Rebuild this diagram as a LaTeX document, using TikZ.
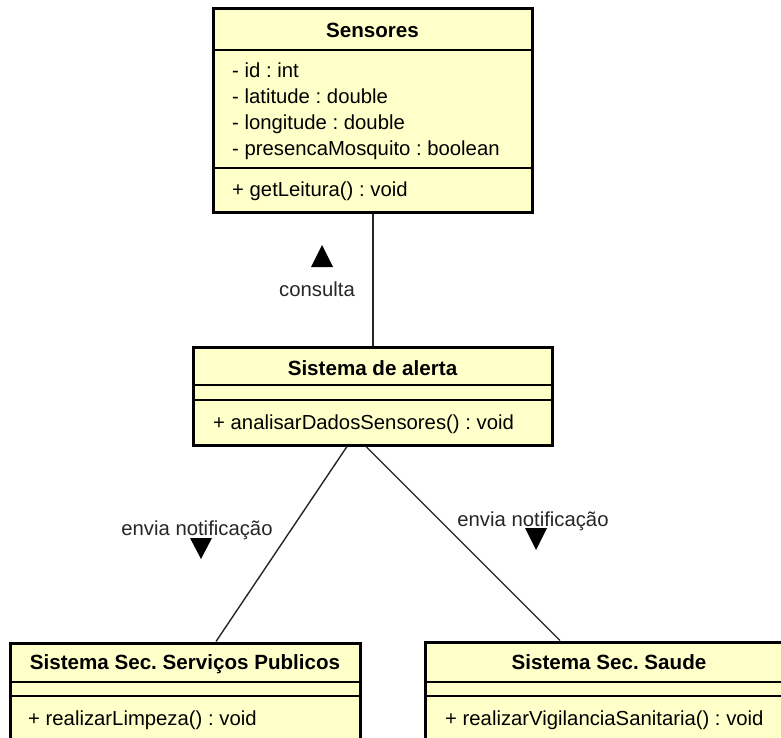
\documentclass[tikz,border=0pt]{standalone}
\usepackage{fontspec}
\setmainfont{Liberation Sans}
\frenchspacing
\begin{document}
\begin{tikzpicture}[x=1pt,y=-1pt,
  classfill/.style={fill=umlfill},
  frame/.style={draw=black,line width=3pt},
  sep/.style={draw=black,line width=1.3pt},
  link/.style={draw=black!85,line width=1.4pt},
  title/.style={inner sep=0pt,anchor=base,font=\fontsize{20.6}{25}\selectfont\bfseries},
  member/.style={inner sep=0pt,anchor=base west,font=\fontsize{20.3}{24}\selectfont},
  lbl/.style={inner sep=0pt,anchor=base,font=\fontsize{20.3}{24}\selectfont,text=black!85},
  dirmark/.style={fill=black}]
\definecolor{umlfill}{RGB}{255,255,202}
\useasboundingbox (0,0) rectangle (781,738);
\clip (0,0) rectangle (781,738);

% Sensores
\coordinate (sensNW) at (213,9);
\coordinate (sensSE) at (532,212);
\path[classfill] (sensNW) rectangle (sensSE);
\draw[sep] (213,50) -- (532,50);
\draw[sep] (213,168) -- (532,168);
\draw[frame] (sensNW) rectangle (sensSE);
\node[title] (sensT) at (372.5,37.5) {Sensores};
\node[member] (sensA1) at (232,78) {- id : int};
\node[member] (sensA2) at (232,104) {- latitude : double};
\node[member] (sensA3) at (232,130) {- longitude : double};
\node[member] (sensA4) at (232,156) {- presencaMosquito : boolean};
\node[member] (sensM1) at (232,196.5) {+ getLeitura() : void};

% Sistema de alerta
\coordinate (alNW) at (193,347);
\coordinate (alSE) at (552,445);
\path[classfill] (alNW) rectangle (alSE);
\draw[sep] (193,385) -- (552,385);
\draw[sep] (193,400) -- (552,400);
\draw[frame] (alNW) rectangle (alSE);
\node[title] (alT) at (372.5,375) {Sistema de alerta};
\node[member] (alM1) at (213,429) {+ analisarDadosSensores() : void};

% Sistema Sec. Servicos Publicos
\coordinate (spNW) at (10,643);
\coordinate (spSE) at (360,760);
\path[classfill] (spNW) rectangle (spSE);
\draw[sep] (10,682) -- (360,682);
\draw[sep] (10,696) -- (360,696);
\draw[frame] (spNW) rectangle (spSE);
\node[title] (spT) at (185,669) {Sistema Sec. Serviços Publicos};
\node[member] (spM1) at (28,725) {+ realizarLimpeza() : void};

% Sistema Sec. Saude (runs past the right edge)
\coordinate (ssNW) at (425,642);
\coordinate (ssSE) at (800,760);
\path[classfill] (ssNW) rectangle (ssSE);
\draw[sep] (425,682) -- (800,682);
\draw[sep] (425,696) -- (800,696);
\draw[frame] (ssNW) rectangle (ssSE);
\node[title] (ssT) at (609,669) {Sistema Sec. Saude};
\node[member] (ssM1) at (445,725) {+ realizarVigilanciaSanitaria() : void};

% associations
\coordinate (c1a) at (373,213.5);
\coordinate (c1b) at (373,345.5);
\coordinate (c2a) at (347,446.5);
\coordinate (c2b) at (216,641.5);
\coordinate (c3a) at (366,446.5);
\coordinate (c3b) at (560,640.5);
\draw[link] (c1a) -- (c1b);
\draw[link] (c2a) -- (c2b);
\draw[link] (c3a) -- (c3b);

% association names with reading direction
\node[lbl] (lblCons) at (317,296) {consulta};
\path[dirmark] (322,245) -- (333,267) -- (311,267) -- cycle;
\node[lbl] (lblEnv1) at (197,535) {envia notificação};
\path[dirmark] (190,538) -- (212,538) -- (201,559) -- cycle;
\node[lbl] (lblEnv2) at (533,526) {envia notificação};
\path[dirmark] (525,528) -- (547,528) -- (536,550) -- cycle;
\end{tikzpicture}
\end{document}
